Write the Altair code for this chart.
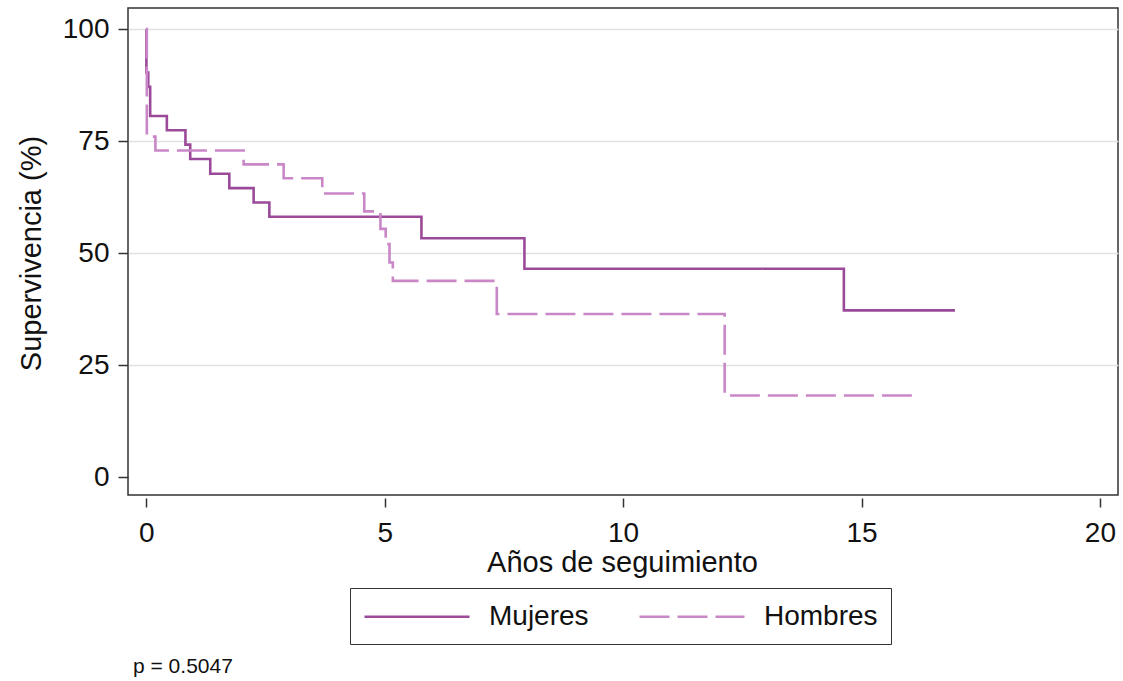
import altair as alt
import pandas as pd

groups = ["Mujeres", "Hombres"]
colors = ["#9b4a99", "#c987c7"]

t_mujeres = [0, 0.001, 0.04, 0.08, 0.43, 0.82, 0.92, 1.34, 1.74, 2.25, 2.58, 5.77, 7.93, 14.63, 16.96]
s_mujeres = [100, 90.3, 87.1, 80.6, 77.4, 74.2, 71.0, 67.7, 64.5, 61.3, 58.1, 53.3, 46.5, 37.2, 37.2]

t_hombres = [0, 0.01, 0.19, 2.04, 2.88, 3.69, 4.57, 4.91, 5.02, 5.10, 5.17, 7.35, 12.13, 16.14]
s_hombres = [100, 76.0, 72.9, 69.8, 66.7, 63.3, 59.3, 55.4, 52.0, 47.9, 43.8, 36.4, 18.2, 18.2]

x_ticks = [0, 5, 10, 15, 20]
y_ticks = [0, 25, 50, 75, 100]
p_label = ["p = 0.5047"]

rows = []
for i, (t, s) in enumerate(zip(t_mujeres, s_mujeres)):
    rows.append({"grupo": "Mujeres", "t": t, "s": s, "orden": i})
for i, (t, s) in enumerate(zip(t_hombres, s_hombres)):
    rows.append({"grupo": "Hombres", "t": t, "s": s, "orden": i})
df = pd.DataFrame(rows)

FONT = "Liberation Sans"

x_scale = alt.Scale(domain=[-0.385, 20.38], nice=False, zero=False)
y_scale = alt.Scale(domain=[-4.0, 104.7], nice=False, zero=False)

lines = alt.Chart(df).mark_line(interpolate="step-after", strokeWidth=2.6).encode(
    x=alt.X("t:Q", scale=x_scale,
            axis=alt.Axis(values=x_ticks, title="Años de seguimiento", grid=False,
                          domain=False, tickSize=9, offset=3, labelPadding=12,
                          titleX=494, titleY=64, titleBaseline="middle",
                          titleAlign="center")),
    y=alt.Y("s:Q", scale=y_scale,
            axis=alt.Axis(values=y_ticks, title="Supervivencia (%)", grid=True,
                          gridColor="#e2e2e2", gridWidth=1.5,
                          gridOpacity=alt.condition("datum.value == 0", alt.value(0), alt.value(1)),
                          domain=False, tickSize=10, labelPadding=9,
                          titleX=-97, titleY=245, titleAngle=-90,
                          titleAlign="center", titleBaseline="middle")),
    color=alt.Color("grupo:N", scale=alt.Scale(domain=groups, range=colors),
                    legend=alt.Legend(title=None)),
    strokeDash=alt.StrokeDash("grupo:N", scale=alt.Scale(domain=groups, range=[[1, 0], [30, 8]]),
                              legend=alt.Legend(title=None)),
    order=alt.Order("orden:Q"),
)

ptext = alt.Chart(pd.DataFrame({"p": p_label})).mark_text(
    align="left", baseline="middle", fontSize=21, font=FONT, color="#111"
).encode(text="p:N", x=alt.value(5), y=alt.value(659))

chart = alt.layer(lines, ptext).properties(
    width=990, height=487,
    autosize=alt.AutoSizeParams(type="none"),
    padding={"left": 128, "top": 8, "right": 5, "bottom": 186},
).configure_view(
    stroke="#333", strokeWidth=1.5
).configure_axis(
    labelFont=FONT, titleFont=FONT, labelFontSize=28, titleFontSize=29,
    labelColor="#111", titleColor="#111", tickColor="#333", tickWidth=1.5,
    titleFontWeight="normal"
).configure_legend(
    orient="none", legendX=222, legendY=580, direction="horizontal",
    strokeColor="#333", padding=13, symbolType="M-1,0H6.5", symbolSize=784,
    symbolStrokeWidth=2.6, labelFont=FONT, labelFontSize=28, labelColor="#111",
    labelOffset=95, columnPadding=45, labelLimit=300
)

chart.save("out.html", embed_options={"renderer": "svg", "actions": False})
